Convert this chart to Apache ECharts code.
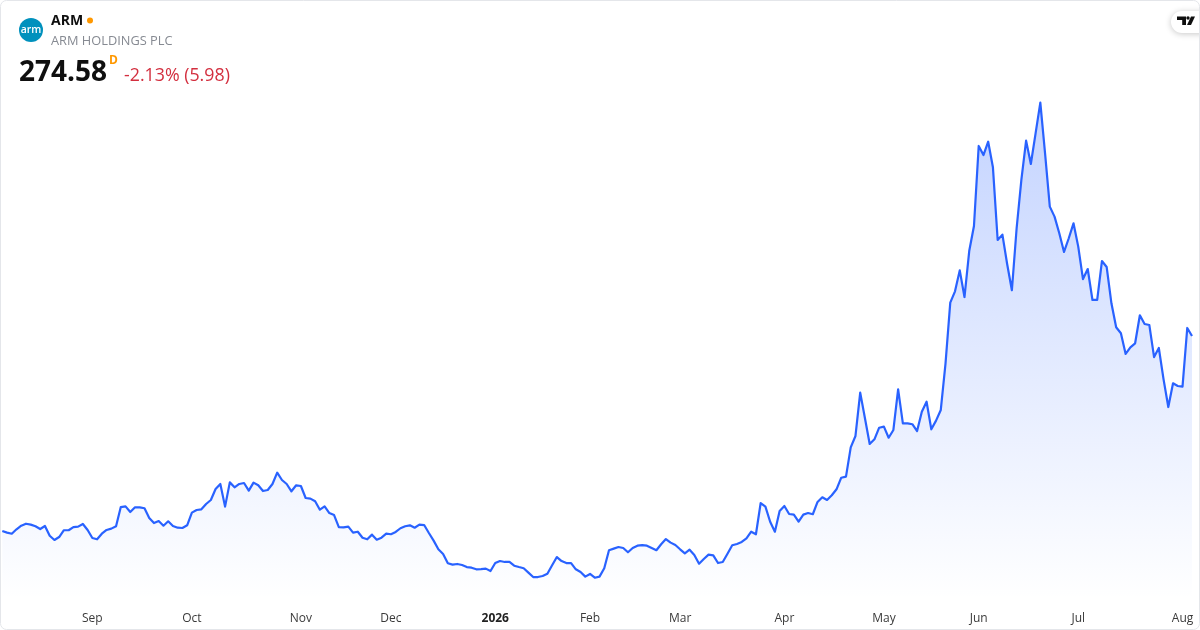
<!DOCTYPE html>
<html>
<head>
<meta charset="utf-8">
<style>html,body{margin:0;padding:0;background:#fff}#c{width:1200px;height:630px}</style>
<script src="https://cdn.jsdelivr.net/npm/echarts@6/dist/echarts.min.js"></script>
</head>
<body>
<div id="c"></div>
<script>
const prices = [128.3,127.1,126.3,129.6,132.3,133.8,133.1,131.9,129.8,132.1,124.8,121.6,123.8,128.9,128.9,131.3,131.6,133.6,129.1,123.1,122.1,126.3,129.1,130.1,131.9,146.3,146.8,142.6,146.1,146.1,145.4,138.1,134.3,135.8,132.3,135.6,132.1,130.8,130.6,132.6,142.1,144.1,144.6,148.6,151.6,159.8,163.6,146.6,164.8,161.1,163.6,164.3,158.6,164.6,162.6,158.3,159.1,163.6,172.1,166.6,163.6,158.1,162.6,162.1,153.1,152.6,150.6,144.3,146.8,141.8,140.3,131.3,131.1,131.6,127.1,127.8,123.3,122.1,125.6,121.8,123.3,126.3,125.9,127.6,130.4,131.9,132.6,130.8,133.1,132.8,126.8,121.1,114.6,111.1,104.1,103.1,103.6,102.8,101.3,100.8,99.6,99.8,100.1,98.3,104.3,105.8,105.1,105.1,102.3,101.3,100.4,97.1,93.8,93.8,94.6,96.3,102.6,108.8,105.8,104.3,104.3,99.6,97.6,94.1,96.1,93.3,94.1,100.4,113.9,115.1,116.3,115.6,112.4,115.6,117.3,117.8,117.3,115.6,113.9,118.4,122.3,119.6,117.8,114.6,111.6,114.3,110.3,103.8,107.3,110.6,110.1,104.3,105.1,111.3,117.6,118.6,120.1,122.8,127.8,125.9,149.3,146.6,135.3,127.8,143.3,147.1,141.1,140.6,135.3,140.6,141.8,140.9,150.1,153.6,151.6,155.1,159.6,168.3,169.1,191.1,199.6,232.1,212.9,193.6,197.1,205.8,206.6,198.3,204.1,234.6,209.1,209.1,208.4,203.3,217.8,225.3,204.6,211.1,219.1,254.1,299.6,308.1,323.8,303.8,338.3,357.1,417.1,410.3,420.3,401.1,346.6,350.6,328.6,308.9,355.4,391.6,421.1,403.6,426.6,449.6,411.6,371.6,364.1,351.6,337.6,347.9,359.1,341.6,317.3,324.8,301.6,301.6,330.8,326.3,299.1,281.1,276.6,261.1,266.1,269.1,290.1,283.6,282.8,258.8,265.6,242.1,221.3,239.1,237.1,236.6,280.6,274.58];
const tickIndexes = [19,40,63,82,104,124,143,165,186,206,227,249];
const tickLabels = ["Sep","Oct","Nov","Dec","2026","Feb","Mar","Apr","May","Jun","Jul","Aug"];
const sessions = prices.map((_, i) => i);

const FONT = '"Open Sans","Noto Sans",sans-serif';
const chart = echarts.init(document.getElementById('c'), null, {renderer:'canvas', width:1200, height:630});
const txt = (x,y,text,font,fill,extra) => ({type:'text',x,y,z:10,style:Object.assign({text,font,fill,textVerticalAlign:'middle',textAlign:'left'},extra||{})});
const ink = '#0f0f0f';

chart.setOption({
  animation:false,
  backgroundColor:'#fff',
  grid:{left:2.3,right:8,top:100,height:500,containLabel:false},
  xAxis:{
    type:'category',data:sessions,boundaryGap:false,
    axisLine:{show:false},axisTick:{show:false},splitLine:{show:false},
    axisLabel:{
      margin:13,hideOverlap:false,color:'#3a3a3a',fontFamily:FONT,fontSize:12,
      interval:(i)=>tickIndexes.includes(i),
      formatter:(v)=>{
        const k=tickIndexes.indexOf(Number(v));
        if(k<0) return '';
        const s=tickLabels[k];
        return /^\d+$/.test(s)?'{b|'+s+'}':s;
      },
      rich:{b:{fontWeight:'bold',fontFamily:FONT,fontSize:12,color:'#222'}}
    }
  },
  yAxis:{type:'value',min:76.58,max:451.58,show:false,splitLine:{show:false}},
  series:[{
    type:'line',data:prices,symbol:'none',smooth:false,
    lineStyle:{color:'#2962ff',width:2.2,join:'round'},
    areaStyle:{origin:'start',opacity:1,color:new echarts.graphic.LinearGradient(0,100,0,600,[
      {offset:0,color:'rgba(41,98,255,0.28)'},
      {offset:1,color:'rgba(41,98,255,0)'}
    ],true)}
  }],
  graphic:[
    {type:'rect',z:9,shape:{x:0.5,y:0.5,width:1199,height:629,r:6},style:{fill:'none',stroke:'#e4e6ea',lineWidth:1}},
    {type:'circle',z:10,shape:{cx:31,cy:30,r:12},style:{fill:'#0091bd'}},
    txt(31,30,'arm','600 10.5px '+FONT,'#fff',{textAlign:'center'}),
    txt(51,21.5,'ARM','bold 14px '+FONT,ink),
    {type:'circle',z:10,shape:{cx:90,cy:20.5,r:3},style:{fill:'#ff9800'}},
    txt(51,41.5,'ARM HOLDINGS PLC','12.8px '+FONT,'#868a92'),
    txt(19,73.5,'274.58','bold 28px '+FONT,ink),
    txt(109,61,'D','bold 12px '+FONT,'#ff9800'),
    txt(124,75.5,'-2.13% (5.98)','17.8px '+FONT,'#d32f3f'),
    {type:'rect',z:8,shape:{x:1171,y:11,width:40,height:22,r:11},style:{fill:'#fff',shadowBlur:6,shadowColor:'rgba(0,0,0,0.22)',shadowOffsetY:1}},
    {type:'rect',z:9,shape:{x:1200,y:0,width:10,height:40},style:{fill:'#fff'}},
    {type:'polygon',z:11,shape:{points:[[1177,16.5],[1186,16.5],[1186,25],[1182.2,25],[1182.2,20],[1177,20]]},style:{fill:ink}},
    {type:'circle',z:11,shape:{cx:1188,cy:18,r:1.7},style:{fill:ink}},
    {type:'polygon',z:11,shape:{points:[[1191,16.5],[1195,16.5],[1191,25],[1187,25]]},style:{fill:ink}}
  ]
});
</script>
</body>
</html>
